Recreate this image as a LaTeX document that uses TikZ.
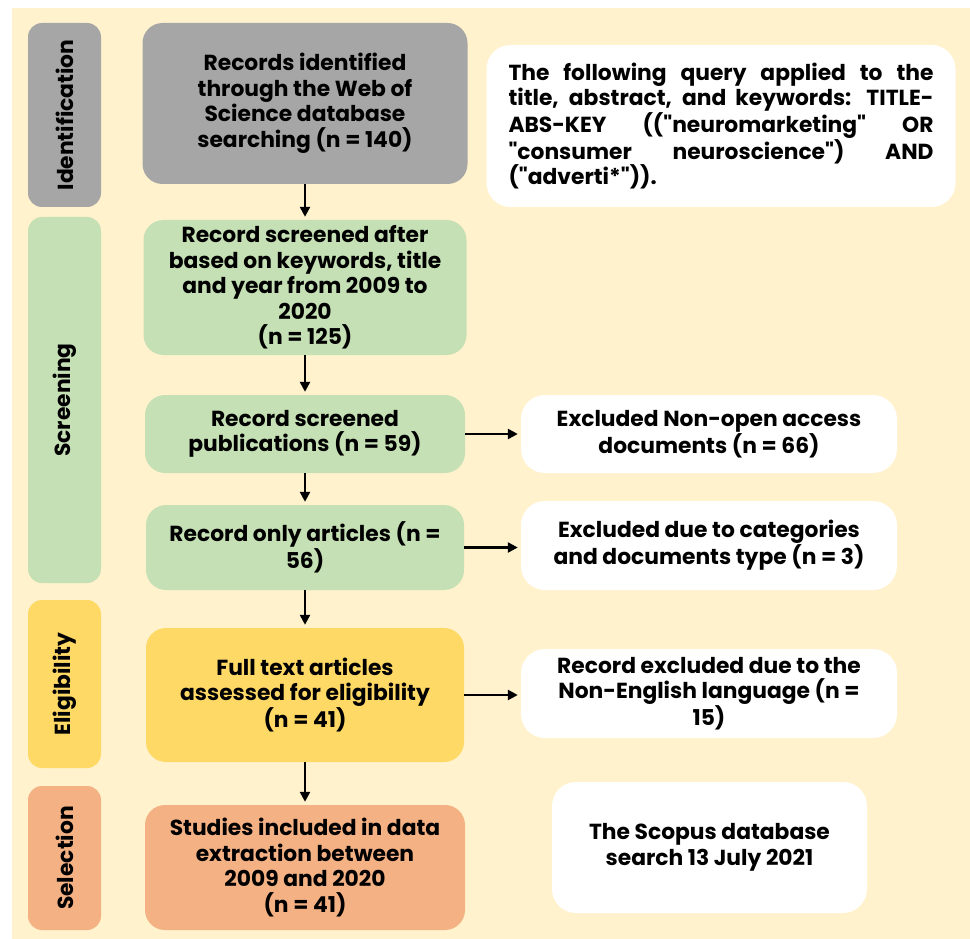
\documentclass[tikz,border=0pt]{standalone}
\usepackage{fontspec}
\setmainfont{Poppins}[Ligatures=TeXOff]
\usetikzlibrary{arrows.meta}
\definecolor{cream}{HTML}{FFF2CC}
\definecolor{idgray}{HTML}{A6A6A6}
\definecolor{scrgreen}{HTML}{C5E0B4}
\definecolor{eliyellow}{HTML}{FFD966}
\definecolor{selorange}{HTML}{F4B183}
\begin{document}
\begin{tikzpicture}[x=1pt, y=-1pt,
        every node/.style={font=\fontsize{21.8}{25.5}\selectfont\bfseries, text=black},
        box/.style={rounded corners=20pt, align=center, inner sep=3pt},
        phase/.style={rounded corners=14pt, minimum height=73pt, rotate=90, inner sep=2pt},
        note/.style={box, fill=white, rounded corners=24pt},
        flow/.style={-{Triangle[length=10pt,width=10pt]}, line width=2.4pt, shorten >=3pt}]
        \useasboundingbox (0, 0) rectangle (970, 939);
        \fill[cream] (12, 8) rectangle (970, 939);

        \node[phase, fill=idgray, minimum width=184pt] (ID) at (64.5, 115) {Identification};
        \node[phase, fill=scrgreen, minimum width=366pt] (SC) at (64.5, 400) {Screening};
        \node[phase, fill=eliyellow, minimum width=168pt] (EL) at (64.5, 684) {Eligibility};
        \node[phase, fill=selorange, minimum width=144pt] (SE) at (64.5, 858) {Selection};

        \node[box, fill=idgray, minimum width=325pt, minimum height=161pt] (REC) at (305, 103.5) {Records identified\\through the Web of\\Science database\\searching (n = 140)};
        \node[box, fill=scrgreen, minimum width=323pt, minimum height=135pt] (KEY) at (305, 287.5) {Record screened after\\based on keywords, title\\and year from 2009 to\\2020\\(n = 125)};
        \node[box, fill=scrgreen, minimum width=320pt, minimum height=78pt] (PUB) at (305, 434) {Record screened\\publications (n = 59)};
        \node[box, fill=scrgreen, minimum width=318pt, minimum height=85pt] (ART) at (305, 547.5) {Record only articles (n =\\56)};
        \node[box, fill=eliyellow, minimum width=318pt, minimum height=134pt] (FUL) at (305, 695) {Full text articles\\assessed for eligibility\\(n = 41)};
        \node[box, fill=selorange, minimum width=320pt, minimum height=125pt] (INC) at (305, 867.5) {Studies included in data\\extraction between\\2009 and 2020\\(n = 41)};

        \node[note, align=justify, text width=425pt, inner xsep=22pt, minimum height=162pt] (QRY) at (721, 126) {The following query applied to the\linebreak title, abstract, and keywords: TITLE-\linebreak ABS-KEY (("neuromarketing" OR\linebreak "consumer neuroscience") AND\linebreak ("adverti*")).};
        \node[note, minimum width=376pt, minimum height=78pt] (EX1) at (709, 434) {Excluded Non-open access\\documents (n = 66)};
        \node[note, minimum width=376pt, minimum height=89pt] (EX2) at (709, 545.5) {Excluded due to categories\\and documents type (n = 3)};
        \node[note, minimum width=376pt, minimum height=89pt] (EX3) at (709, 693.5) {Record excluded due to the\\Non-English language (n =\\15)};
        \node[note, minimum width=315pt, minimum height=131pt] (SCO) at (709.5, 847.5) {The Scopus database\\search 13 July 2021};

        \draw[flow] (REC) -- (KEY);
        \draw[flow] (KEY) -- (PUB);
        \draw[flow] (PUB) -- (ART);
        \draw[flow] (ART) -- (FUL);
        \draw[flow] (FUL) -- (INC);

        \draw[flow] (PUB) -- (EX1);
        \draw[flow] (ART.east) -- (ART.east -| EX2.west);
        \draw[flow] (FUL.east) -- (FUL.east -| EX3.west);
    \end{tikzpicture}
\end{document}
